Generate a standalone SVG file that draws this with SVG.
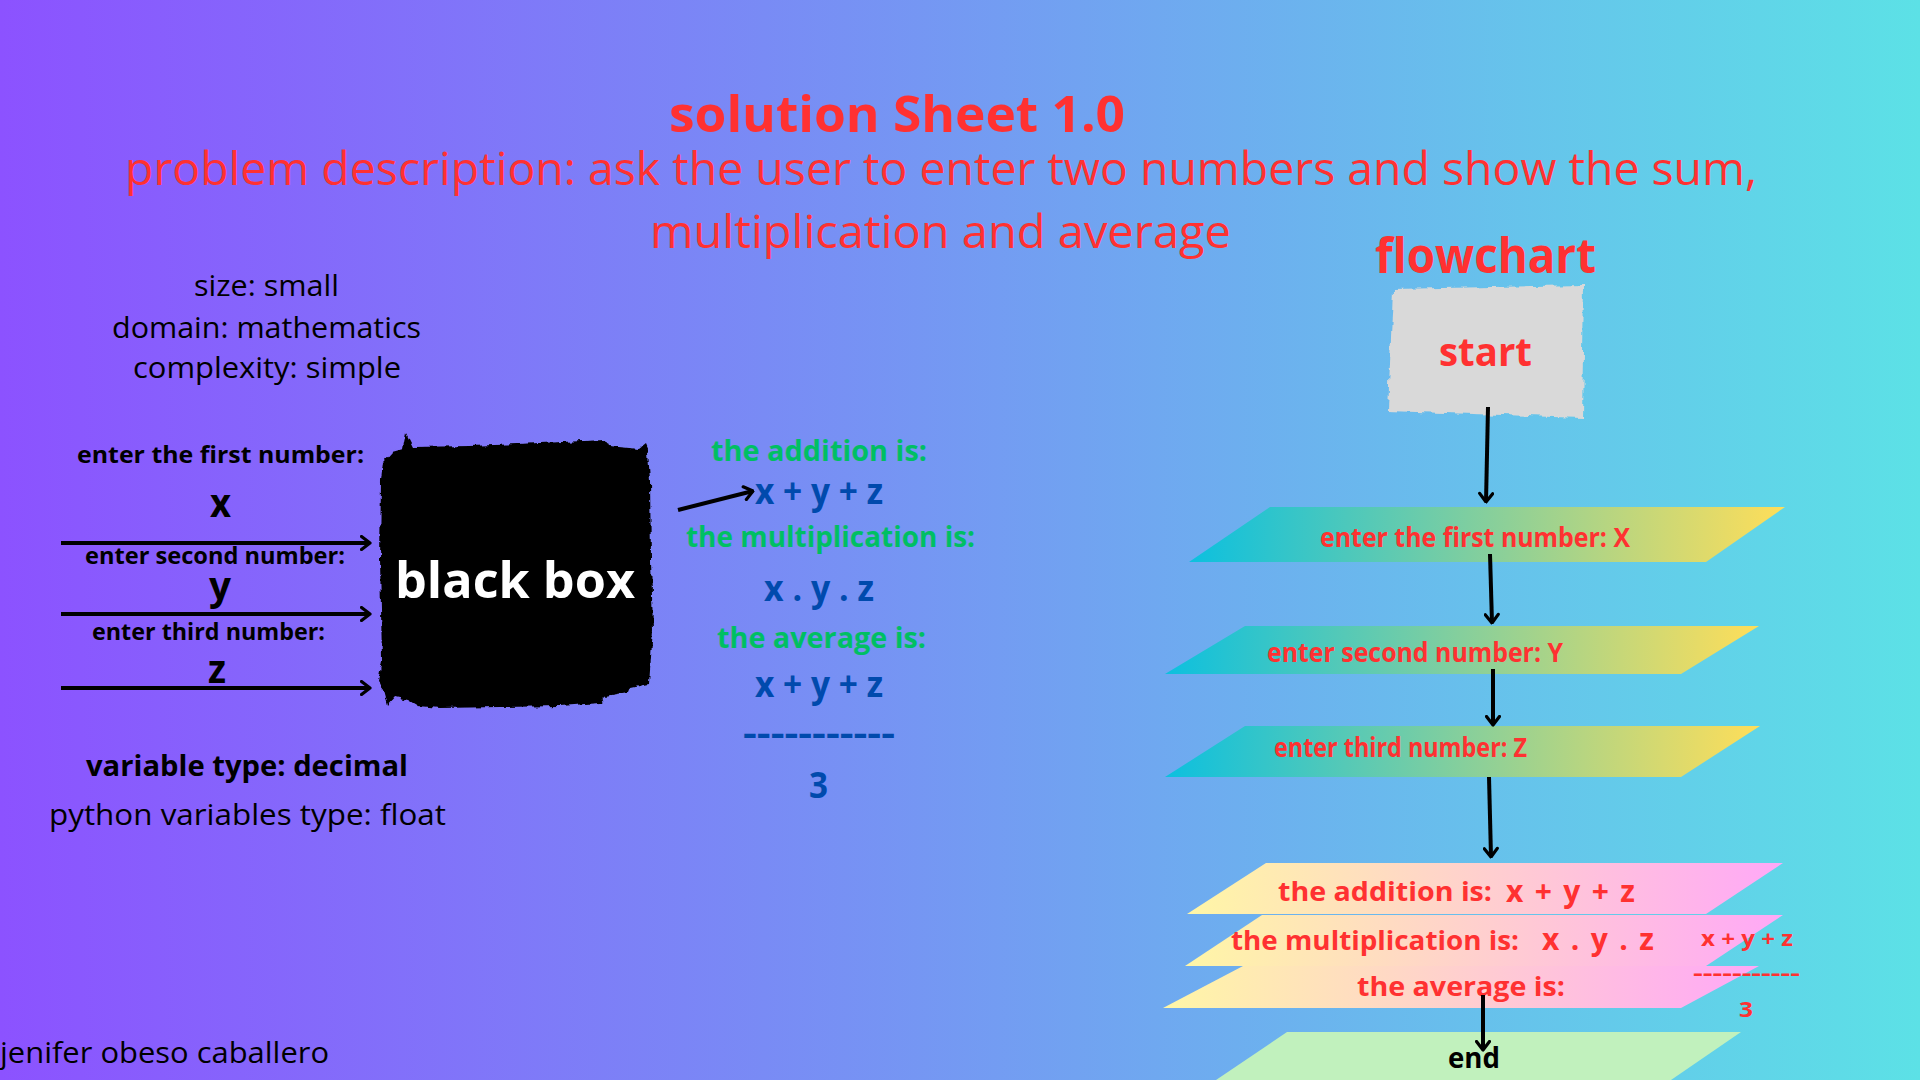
<svg xmlns="http://www.w3.org/2000/svg" width="1920" height="1080" viewBox="0 0 1920 1080">
<defs>
<linearGradient id="bg" x1="0" y1="0" x2="1" y2="0"><stop offset="0" stop-color="#8c52ff"/><stop offset="1" stop-color="#5ce1e6"/></linearGradient>
<linearGradient id="g1" x1="0" y1="0" x2="1" y2="0"><stop offset="0" stop-color="#0cc0df"/><stop offset="1" stop-color="#ffde59"/></linearGradient>
<linearGradient id="g2" x1="0" y1="0" x2="1" y2="0"><stop offset="0" stop-color="#fff6a6"/><stop offset="1" stop-color="#ffa8f7"/></linearGradient>
<filter id="rough" x="-10%" y="-10%" width="120%" height="120%"><feTurbulence type="fractalNoise" baseFrequency="0.09" numOctaves="2" seed="3"/><feDisplacementMap in="SourceGraphic" scale="7" xChannelSelector="R" yChannelSelector="G"/></filter>
<filter id="rough2" x="-10%" y="-10%" width="120%" height="120%"><feTurbulence type="fractalNoise" baseFrequency="0.12" numOctaves="2" seed="7"/><feDisplacementMap in="SourceGraphic" scale="6" xChannelSelector="R" yChannelSelector="G"/></filter>
<marker id="ah" viewBox="0 0 12 16" refX="10.5" refY="8" markerWidth="12" markerHeight="16" orient="auto" markerUnits="userSpaceOnUse"><path d="M2,1.5 L10.5,8 L2,14.5" fill="none" stroke="#000" stroke-width="3.2" stroke-linecap="round" stroke-linejoin="round"/></marker>
</defs>
<style>
.red{fill:#ff3131}
.blk{fill:#000}
.grn{fill:#00bf63}
.blu{fill:#004aad}
.sans{font-family:"Open Sans","Noto Sans","Liberation Sans",sans-serif}
.b{font-weight:700}
.mono{font-family:"Open Sans","Noto Sans","Liberation Sans",sans-serif;font-weight:700}
.conn{stroke:#000;stroke-width:4;fill:none;marker-end:url(#ah)}
</style>
<rect x="0" y="0" width="1920" height="1080" fill="url(#bg)"/>

<g id="title">
<text class="sans b red" x="669" y="132" font-size="50" textLength="456" lengthAdjust="spacingAndGlyphs">solution Sheet 1.0</text>
<text class="sans red" x="125" y="185" font-size="45" textLength="1632" lengthAdjust="spacingAndGlyphs" style="font-weight:400">problem description: ask the user to enter two numbers and show the sum,</text>
<text class="sans red" x="650" y="248" font-size="45" textLength="581" lengthAdjust="spacingAndGlyphs" style="font-weight:400">multiplication and average</text>
</g>

<g id="info">
<text class="sans blk" x="194" y="296" font-size="29" textLength="145" lengthAdjust="spacingAndGlyphs">size: small</text>
<text class="sans blk" x="112" y="338" font-size="29" textLength="309" lengthAdjust="spacingAndGlyphs">domain: mathematics</text>
<text class="sans blk" x="133" y="378" font-size="29" textLength="268" lengthAdjust="spacingAndGlyphs">complexity: simple</text>
</g>

<g id="inputs">
<text class="sans b blk" x="77" y="463" font-size="24" textLength="287" lengthAdjust="spacingAndGlyphs">enter the first number:</text>
<text class="sans b blk" x="210" y="517" font-size="40" textLength="21" lengthAdjust="spacingAndGlyphs">x</text>
<text class="sans b blk" x="85" y="564" font-size="24" textLength="260" lengthAdjust="spacingAndGlyphs">enter second number:</text>
<text class="sans b blk" x="209" y="600" font-size="40" textLength="22" lengthAdjust="spacingAndGlyphs">y</text>
<text class="sans b blk" x="92" y="640" font-size="24" textLength="233" lengthAdjust="spacingAndGlyphs">enter third number:</text>
<text class="sans b blk" x="208" y="683" font-size="40" textLength="18" lengthAdjust="spacingAndGlyphs">z</text>
</g>

<g id="blackbox">
<path filter="url(#rough2)" fill="#000" d="M383,462 L392,452 L403,449 L406,433 L413,447 L470,446 L540,443 L605,440 L608,446 L640,449 L645,445 L648,452 L650,480 L651,560 L653,630 L649,684 L630,688 L628,693 L605,697 L600,703 L560,706 L500,707 L440,708 L418,706 L408,700 L395,697 L388,705 L384,690 L378,682 L382,660 L380,560 L381,480 Z"/>
<text class="sans b" fill="#fff" x="395" y="598" font-size="50" textLength="240" lengthAdjust="spacingAndGlyphs">black box</text>
</g>

<g id="types">
<text class="sans b blk" x="86" y="776" font-size="28" textLength="322" lengthAdjust="spacingAndGlyphs">variable type: decimal</text>
<text class="sans blk" x="49" y="825" font-size="29" textLength="397" lengthAdjust="spacingAndGlyphs">python variables type: float</text>
</g>

<g id="author">
<text class="sans blk" x="0" y="1063" font-size="29" textLength="329" lengthAdjust="spacingAndGlyphs">jenifer obeso caballero</text>
</g>

<g id="outputs">
<text class="sans b grn" x="711" y="461" font-size="29" textLength="216" lengthAdjust="spacingAndGlyphs">the addition is:</text>
<text class="mono blu" x="755" y="504" font-size="35" textLength="128" lengthAdjust="spacingAndGlyphs">x + y + z</text>
<text class="sans b grn" x="686" y="547" font-size="29" textLength="289" lengthAdjust="spacingAndGlyphs">the multiplication is:</text>
<text class="mono blu" x="764" y="601" font-size="35" textLength="110" lengthAdjust="spacingAndGlyphs">x . y . z</text>
<text class="sans b grn" x="717" y="648" font-size="29" textLength="209" lengthAdjust="spacingAndGlyphs">the average is:</text>
<text class="mono blu" x="755" y="697" font-size="35" textLength="128" lengthAdjust="spacingAndGlyphs">x + y + z</text>
<text class="sans b blu" x="743" y="745" font-size="34" textLength="152" lengthAdjust="spacingAndGlyphs">-----------</text>
<text class="sans b blu" x="809" y="798" font-size="35" textLength="19" lengthAdjust="spacingAndGlyphs">3</text>
</g>

<g id="flowchart-title">
<text class="sans b red" x="1375" y="273" font-size="48" textLength="221" lengthAdjust="spacingAndGlyphs">flowchart</text>
</g>

<g id="start">
<path filter="url(#rough)" fill="#d9d9d9" d="M1393,289 L1584,285 L1582,418 L1388,411 Z"/>
<text class="sans b red" x="1439" y="366" font-size="40" textLength="93" lengthAdjust="spacingAndGlyphs">start</text>
</g>

<g id="in1">
<polygon points="1270,507 1785,507 1706,562 1189,562" fill="url(#g1)"/>
<text class="sans b red" x="1320" y="547" font-size="26" textLength="310" lengthAdjust="spacingAndGlyphs">enter the first number: X</text>
</g>

<g id="in2">
<polygon points="1245,626 1759,626 1681,674 1165,674" fill="url(#g1)"/>
<text class="sans b red" x="1267" y="662" font-size="26" textLength="296" lengthAdjust="spacingAndGlyphs">enter second number: Y</text>
</g>

<g id="in3">
<polygon points="1245,726 1760,726 1681,777 1165,777" fill="url(#g1)"/>
<text class="sans b red" x="1274" y="757" font-size="26" textLength="253" lengthAdjust="spacingAndGlyphs">enter third number: Z</text>
</g>

<g id="out-avg">
<polygon points="1243,966 1759,966 1681,1008 1163,1008" fill="url(#g2)"/>
<text class="sans b red" x="1357" y="996" font-size="27" textLength="208" lengthAdjust="spacingAndGlyphs">the average is:</text>
</g>

<g id="out-mult">
<polygon points="1262,915 1783,915 1706,966 1185,966" fill="url(#g2)"/>
<text class="sans b red" x="1231" y="950" font-size="27" textLength="288" lengthAdjust="spacingAndGlyphs">the multiplication is:</text>
<text class="mono red" x="1542" y="950" font-size="30" textLength="112" lengthAdjust="spacing">x . y . z</text>
</g>

<g id="out-add">
<polygon points="1266,863 1783,863 1706,914 1187,914" fill="url(#g2)"/>
<text class="sans b red" x="1278" y="901" font-size="27" textLength="214" lengthAdjust="spacingAndGlyphs">the addition is:</text>
<text class="mono red" x="1506" y="902" font-size="30" textLength="129" lengthAdjust="spacing">x + y + z</text>
</g>

<g id="avg-formula">
<text class="sans b red" x="1701" y="946" font-size="22" textLength="92" lengthAdjust="spacingAndGlyphs">x + y + z</text>
<text class="sans b red" x="1693" y="980" font-size="22" textLength="107" lengthAdjust="spacingAndGlyphs">-----------</text>
<text class="sans b red" x="1739" y="1017" font-size="22" textLength="14" lengthAdjust="spacingAndGlyphs">3</text>
</g>

<g id="end">
<polygon points="1287,1032 1741,1032 1671,1080 1216,1080" fill="#c1f1bd"/>
<text class="sans b blk" x="1448" y="1068" font-size="29" textLength="52" lengthAdjust="spacingAndGlyphs">end</text>
</g>

<g id="connectors">
<line class="conn" x1="61" y1="543" x2="370" y2="543"/>
<line class="conn" x1="61" y1="614" x2="370" y2="614"/>
<line class="conn" x1="61" y1="688" x2="370" y2="688"/>
<line class="conn" x1="678" y1="510" x2="753" y2="491"/>
<line class="conn" x1="1488" y1="407" x2="1486" y2="502"/>
<line class="conn" x1="1490" y1="554" x2="1492" y2="623"/>
<line class="conn" x1="1493" y1="669" x2="1493" y2="725"/>
<line class="conn" x1="1489" y1="777" x2="1491" y2="857"/>
<line class="conn" x1="1483" y1="995" x2="1483" y2="1050"/>
</g>
</svg>
